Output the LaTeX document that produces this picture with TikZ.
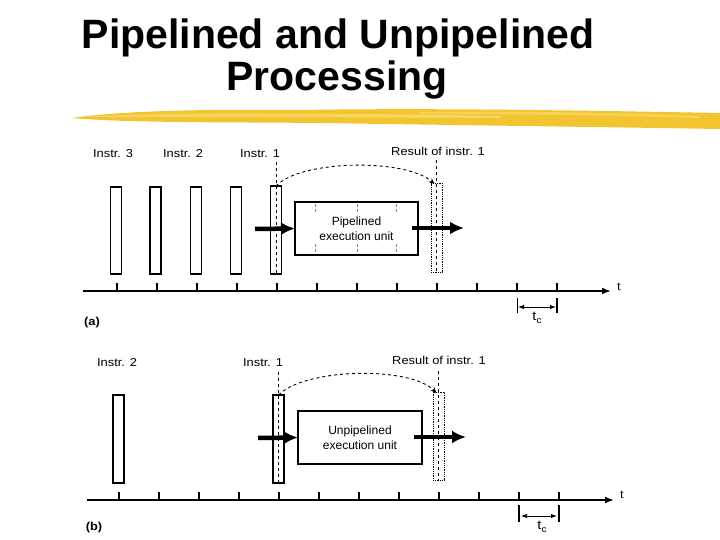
\documentclass[tikz,border=0pt]{standalone}
\usepackage{fontspec}
\setmainfont{Liberation Sans}
\newfontfamily\lblfont[FakeStretch=1.12]{Liberation Sans}
\newfontfamily\boxfont{Liberation Sans}
\newfontfamily\titlefont{Liberation Sans}
\usetikzlibrary{arrows.meta,calc}
\definecolor{brushA}{RGB}{242,196,48}
\definecolor{brushB}{RGB}{250,220,110}
\tikzset{
  bar/.style={draw,line width=1.9pt,minimum width=11pt,inner sep=0pt,outer sep=0pt},
  resbar/.style={draw,densely dotted,line width=0.8pt,minimum width=11pt,inner sep=0pt,outer sep=0pt},
  unitbox/.style={draw,line width=1.9pt,inner sep=0pt,outer sep=0pt,align=center,font=\boxfont\fontsize{12}{15.5}\selectfont},
  lbl/.style={font=\lblfont\fontsize{11.5}{13}\selectfont,inner sep=0pt},
  fat/.style={line width=4.5pt,-{Latex[length=14pt,width=13pt]}},
  curv/.style={dashed,line width=0.9pt,-{Stealth[length=6pt,width=5pt]}},
  ctr/.style={dashed,line width=0.8pt},
  stage/.style={densely dashed,line width=0.6pt,gray},
  axis/.style={line width=1.7pt,-{Latex[length=9pt,width=7pt]}},
  tick/.style={line width=1.1pt},
  tcarrow/.style={line width=1pt,{Latex[length=6pt,width=4.5pt]}-{Latex[length=6pt,width=4.5pt]}}
}
\newcommand{\tclabel}{\fontsize{13}{14}\selectfont t\raisebox{-3.5pt}{\fontsize{9}{9}\selectfont c}}
\begin{document}
\begin{tikzpicture}[x=1pt,y=-1pt]
\useasboundingbox (0,0) rectangle (720,540);
\fill[white] (0,0) rectangle (720,540);
% title
\node[anchor=base,inner sep=0pt,font=\titlefont\bfseries\fontsize{41}{44}\selectfont] (title1) at (338,49) {Pipelined and Unpipelined};
\node[anchor=base,inner sep=0pt,font=\titlefont\bfseries\fontsize{41}{44}\selectfont] (title2) at (337,91) {Processing};
% brush stroke
\fill[brushA] (72,118) .. controls (120,111) and (200,109) .. (300,110)
  .. controls (420,108) and (560,110) .. (720,113) -- (720,129)
  .. controls (600,127) and (450,125) .. (320,123)
  .. controls (220,122) and (130,123) .. (72,118) -- cycle;
\fill[brushB,opacity=0.7] (80,117) .. controls (150,113) and (240,113) .. (330,114)
  .. controls (400,114) and (450,115) .. (500,116) -- (500,118)
  .. controls (420,118) and (300,117) .. (80,117) -- cycle;
\fill[brushB,opacity=0.6] (420,112) .. controls (500,111) and (600,112) .. (700,116) -- (700,118)
  .. controls (600,115) and (500,114) .. (420,114) -- cycle;
% ===== panel (a) =====
\node[lbl] (la3) at (113,154) {Instr. 3};
\node[lbl] (la2) at (183,154) {Instr. 2};
\node[lbl] (la1) at (260,154) {Instr. 1};
\node[lbl] (lares) at (438,151) {Result of instr. 1};
\node[bar,minimum height=87pt] (a3) at (116,230.5) {};
\node[bar,minimum height=87pt] (a2) at (155.5,230.5) {};
\node[bar,minimum height=87pt] (ax) at (196,230.5) {};
\node[bar,minimum height=87pt] (a0) at (236,230.5) {};
\node[bar,minimum height=88pt] (a1) at (276,230) {};
\node[resbar,minimum height=89pt] (ares) at (436.5,227.5) {};
\node[unitbox,minimum width=123pt,minimum height=53pt] (aunit) at (356.5,228.5) {Pipelined\\execution unit};
\foreach \x in {315,357,396}{
  \draw[stage] (\x,204) -- (\x,213);
  \draw[stage] (\x,244) -- (\x,253);
}
\draw[ctr] (276,162) -- (a1.south);
\draw[ctr] (436.5,160) -- (ares.south);
\draw[curv] (a1.north) .. controls (300,160) and (405,158) .. ($(ares.north)+(-2,1)$);
\coordinate (ain) at (255,229);
\coordinate (aout) at (464,228);
\draw[fat] (ain) -- (aunit.west);
\draw[fat] (aunit.east |- aout) ++(-6,0) -- (aout);
% axis a
\coordinate (aaxs) at (83,291);
\coordinate (aaxe) at (611,291);
\draw[axis] (aaxs) -- (aaxe);
\node[lbl,anchor=west] (at) at (617,287) {t};
\foreach \x in {117,157,197,237,277,317,357,397,437,477,517,557}{
  \draw[tick] (\x,283) -- (\x,291);
}
\draw[line width=0.9pt] (517,298) -- (517,313);
\draw[line width=1.5pt] (557,298) -- (557,313);
\coordinate (atcl) at (518,307);
\coordinate (atcr) at (556,307);
\draw[tcarrow] (atcl) -- (atcr);
\node[lbl] (atc) at (537,318) {\tclabel};
\node[lbl,font=\lblfont\bfseries\fontsize{11.5}{13}\selectfont] (alab) at (92,323) {(a)};
% ===== panel (b) =====
\node[lbl] (lb2) at (117,363) {Instr. 2};
\node[lbl] (lb1) at (263,363) {Instr. 1};
\node[lbl] (lbres) at (439,360) {Result of instr. 1};
\node[bar,minimum height=88pt] (b2) at (118.5,439) {};
\node[bar,minimum height=88pt] (b1) at (278.5,439) {};
\node[resbar,minimum height=88pt] (bres) at (438.5,436) {};
\node[unitbox,minimum width=124pt,minimum height=53pt] (bunit) at (360,437.5) {Unpipelined\\execution unit};
\draw[ctr] (278.5,372) -- (b1.south);
\draw[ctr] (438.5,371) -- (bres.south);
\draw[curv] (b1.north) .. controls (305,368) and (410,366) .. ($(bres.north)+(-2,1)$);
\coordinate (bin) at (258,438);
\coordinate (bout) at (466,437);
\draw[fat] (bin) -- (bunit.west);
\draw[fat] (bunit.east |- bout) ++(-8,0) -- (bout);
% axis b
\coordinate (baxs) at (87,500);
\coordinate (baxe) at (614,500);
\draw[axis] (baxs) -- (baxe);
\node[lbl,anchor=west] (bt) at (620,495) {t};
\foreach \x in {119,159,199,239,279,319,359,399,439,479,519,559}{
  \draw[tick] (\x,492) -- (\x,500);
}
\draw[line width=1.3pt] (519,505) -- (519,522);
\draw[line width=1.3pt] (559,505) -- (559,522);
\coordinate (btcl) at (521,516);
\coordinate (btcr) at (557,516);
\draw[tcarrow] (btcl) -- (btcr);
\node[lbl] (btc) at (542,527) {\tclabel};
\node[lbl,font=\lblfont\bfseries\fontsize{11.5}{13}\selectfont] (blab) at (94,528) {(b)};
\end{tikzpicture}
\end{document}
